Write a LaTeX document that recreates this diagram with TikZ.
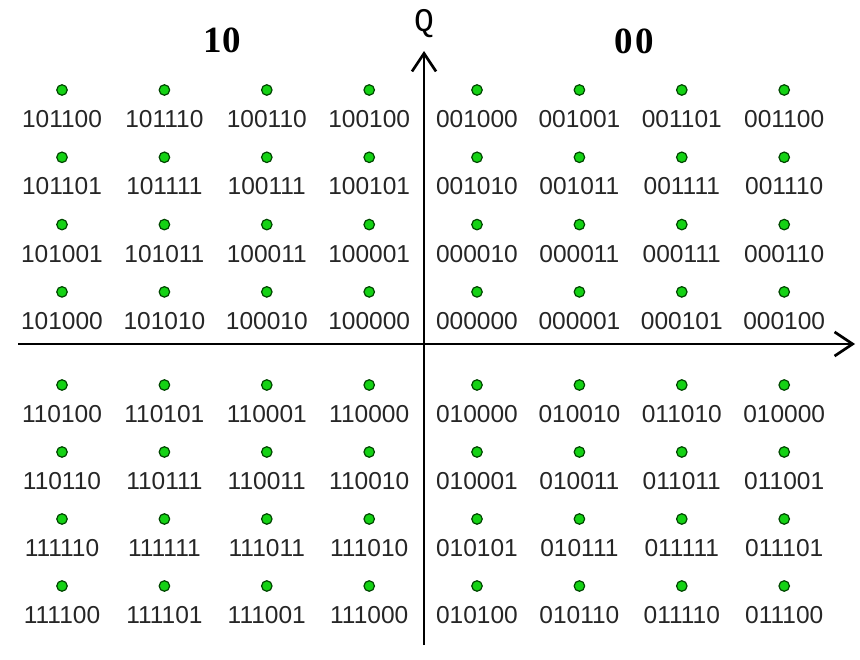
\documentclass[tikz,border=0pt]{standalone}
\usepackage{fontspec}
\setmainfont{Liberation Sans}
\newfontfamily\headfont{Liberation Serif}
\newfontfamily\qfont{Liberation Mono}
\usetikzlibrary{arrows.meta}
\definecolor{ptgreen}{RGB}{20,210,20}
\definecolor{ptedge}{RGB}{0,70,0}

\begin{document}
\begin{tikzpicture}[x=1pt, y=-1pt,
    dot/.style={circle, fill=ptgreen, draw=ptedge, line width=1.2pt, minimum size=10.5pt, inner sep=0pt},
    lbl/.style={font=\fontsize{24.5}{28}\selectfont, text=black!85, inner sep=0pt},
    head/.style={font=\headfont\fontsize{37}{40}\selectfont, inner sep=0pt},
    axis/.style={line width=2.7pt, -{Straight Barb[length=18pt,width=24pt]}}]
    \useasboundingbox (0,0) rectangle (860,660);
    % axes
    \coordinate (xl) at (18,344);
    \coordinate (xr) at (855,344);
    \coordinate (yb) at (424,645);
    \coordinate (yt) at (424,51);
    \draw [axis] (xl) -- (xr);
    \draw [axis] (yb) -- (yt);
    \node [head, font=\qfont\fontsize{33}{36}\selectfont] (q) at (424,24) {Q};
    \node [head, text=black] (h10) at (222,40) {\textbf{10}};
    \node [head, text=black] (h00) at (634,41) {\textbf{0\kern3pt0}};
    % constellation points, row by row
    \foreach \lab [count=\i from 0] in {
        101100,101110,100110,100100,001000,001001,001101,001100,
        101101,101111,100111,100101,001010,001011,001111,001110,
        101001,101011,100011,100001,000010,000011,000111,000110,
        101000,101010,100010,100000,000000,000001,000101,000100,
        110100,110101,110001,110000,010000,010010,011010,010000,
        110110,110111,110011,110010,010001,010011,011011,011001,
        111110,111111,111011,111010,010101,010111,011111,011101,
        111100,111101,111001,111000,010100,010110,011110,011100} {
        \pgfmathtruncatemacro\c{mod(\i,8)}
        \pgfmathtruncatemacro\r{int(\i/8)}
        \pgfmathsetmacro\px{\c<4 ? 62+102.4*\c : 477+102.4*(\c-4)}
        \pgfmathsetmacro\py{\r<4 ? 90+67.3*\r : 385+67*(\r-4)}
        \node [dot] (p\i) at (\px,\py) {};
        \node [lbl] (t\i) at (\px,\py+29) {\lab};
    }
\end{tikzpicture}
\end{document}
